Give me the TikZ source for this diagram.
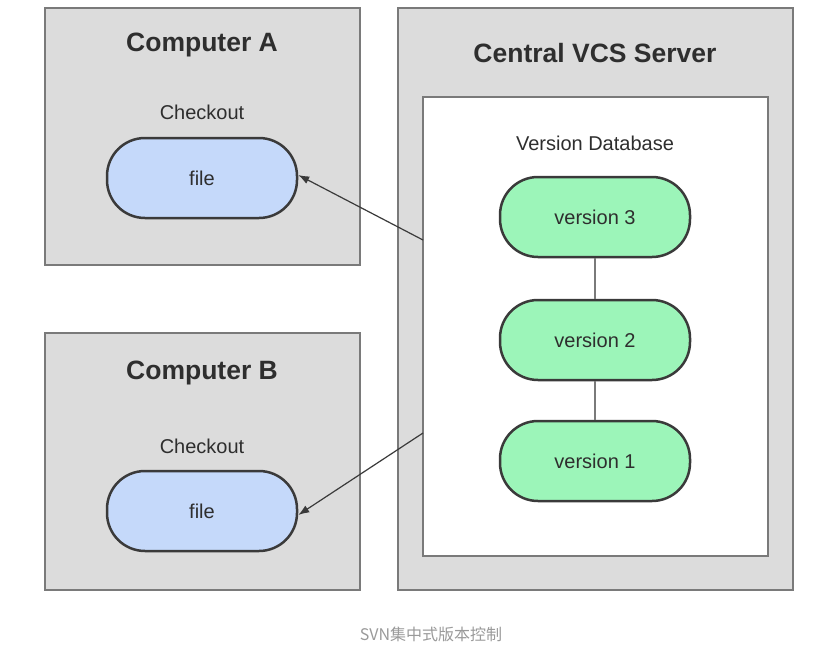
\documentclass[tikz,border=0pt]{standalone}
\usepackage{fontspec}
\setmainfont{Liberation Sans}
\newfontfamily\cjk{Noto Sans CJK SC}
\usetikzlibrary{arrows.meta}
\definecolor{boxgray}{HTML}{DCDCDC}
\definecolor{boxline}{HTML}{7A7A7A}
\definecolor{fileblue}{HTML}{C5D9FA}
\definecolor{vergreen}{HTML}{9CF5B9}
\definecolor{pillline}{HTML}{3A3A3A}
\definecolor{txt}{HTML}{2E2E2E}
\definecolor{captiongray}{HTML}{9A9A9A}
\tikzset{
  panel/.style={draw=boxline, line width=1.8pt, fill=boxgray},
  innerpanel/.style={draw=boxline, line width=1.8pt, fill=white},
  pill/.style={draw=pillline, line width=2.5pt, rounded corners=38pt, minimum width=190pt, minimum height=80pt, inner sep=0pt, text=txt, font=\fontsize{20}{24}\selectfont},
  filepill/.style={pill, fill=fileblue},
  verpill/.style={pill, fill=vergreen},
  title/.style={text=txt, font=\fontsize{26.5}{30}\selectfont\bfseries, inner sep=0pt},
  label/.style={text=txt, font=\fontsize{20}{24}\selectfont, inner sep=0pt},
  link/.style={draw=boxline, line width=1.5pt},
  fetch/.style={draw=pillline, line width=1.2pt, -{Latex[length=11pt,width=8pt]}}
}
\begin{document}
\begin{tikzpicture}[x=1pt,y=-1pt]
\useasboundingbox[fill=white] (0,0) rectangle (824,653);
% panels
\path[panel] (45,8) rectangle (360,265);
\path[panel] (45,333) rectangle (360,590);
\path[panel] (398,8) rectangle (793,590);
\node[innerpanel, minimum width=345pt, minimum height=459pt, inner sep=0pt] (db) at (595.5,326.5) {};
% Computer A
\node[title] (ta) at (202,45) {Computer A};
\node[label] (ca) at (202,112) {Checkout};
\node[filepill] (fa) at (202,178) {file};
% Computer B
\node[title] (tb) at (202,373) {Computer B};
\node[label] (cb) at (202,446) {Checkout};
\node[filepill] (fb) at (202,511) {file};
% Server
\node[title] (ts) at (595,53) {Central VCS Server};
\node[label] (vd) at (595,143) {Version Database};
\node[verpill] (v3) at (595,217) {version 3};
\node[verpill] (v2) at (595,340) {version 2};
\node[verpill] (v1) at (595,461) {version 1};
\draw[link] (v3.south) -- (v2.north);
\draw[link] (v2.south) -- (v1.north);
% arrows
\coordinate (sa) at (423,240);
\coordinate (sb) at (423,433);
\draw[fetch] (sa) -- ([yshift=3pt]fa.east);
\draw[fetch] (sb) -- ([yshift=-4pt]fb.east);
% caption
\node[text=captiongray, font=\cjk\fontsize{16}{20}\selectfont, inner sep=0pt] (cap) at (431,634) {SVN集中式版本控制};
\end{tikzpicture}
\end{document}
